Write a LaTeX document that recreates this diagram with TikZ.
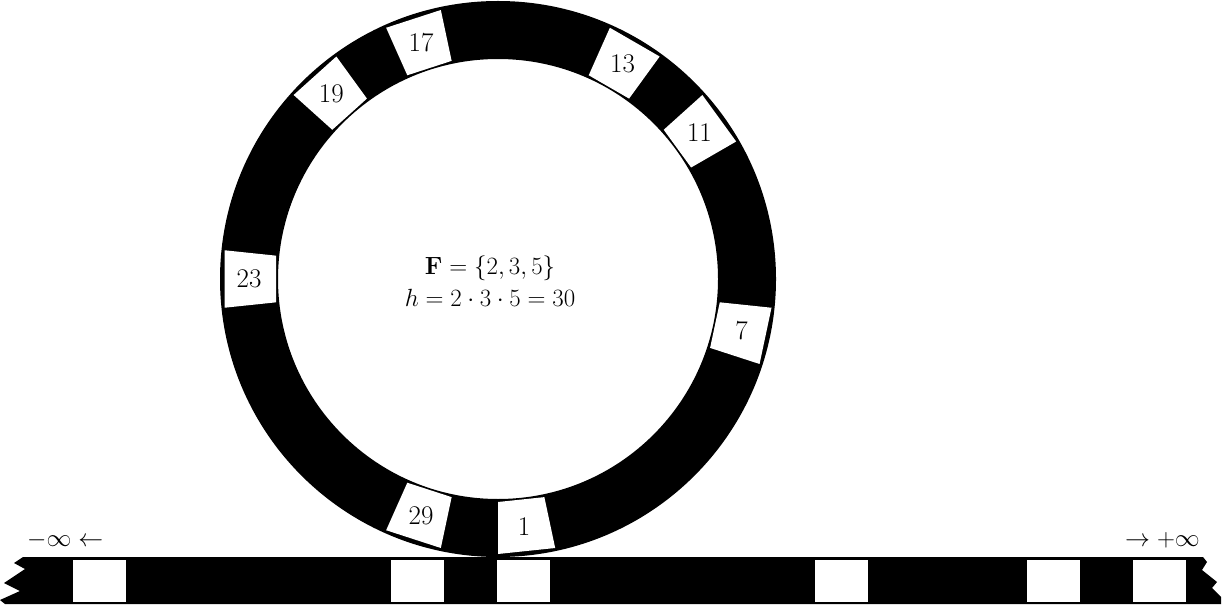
\documentclass[tikz,border=0pt]{standalone}
\usetikzlibrary{calc}
\tikzset{
  every picture/.style={x=1pt, y=1pt},
  numlabel/.style={font=\fontsize{27}{32}\selectfont, inner sep=0pt},
  ringslot/.style={fill=white},
  linecell/.style={fill=white},
}

\begin{document}
\begin{tikzpicture}
  \useasboundingbox (0,0) rectangle (1222,606);
  % the number line, torn at both ends
  \fill (23,49) -- (1203,49) -- (1207,44) -- (1202,36) -- (1217,24) -- (1212,18) -- (1221,9) -- (1221,2)
        -- (5,2) -- (0,6) -- (20,15) -- (4,23) -- (25,37) -- (14,43) -- cycle;
  \foreach \n in {-7,-1,1,7,11,13} {
    \fill[linecell] ({497+53*(\n-1)},4) rectangle ++(53,42);
  }
  \node[numlabel, anchor=west] (neginf) at (27,66) {$-\infty \leftarrow$};
  \node[numlabel, anchor=east] (posinf) at (1200,66) {$\rightarrow +\infty$};
  % the ring of residues mod 30
  \coordinate (ring) at (498,327);
  \fill[even odd rule] (ring) circle (278pt) (ring) circle (220pt);
  \foreach \k in {1,7,11,13,17,19,23,29} {
    \pgfmathsetmacro\a{-90+12*(\k-1)}
    \fill[ringslot, shift={(ring)}] (\a:223) -- (\a+12:223) -- (\a+12:275) -- (\a:275) -- cycle;
    \node[numlabel] (r\k) at ($(ring)+(\a+6:249)$) {\k};
  }
  \node[numlabel, align=center] (formula) at (490,325) {$\mathbf{F} = \{2, 3, 5\}$\\$h = 2\cdot 3\cdot 5 = 30$};
\end{tikzpicture}
\end{document}
